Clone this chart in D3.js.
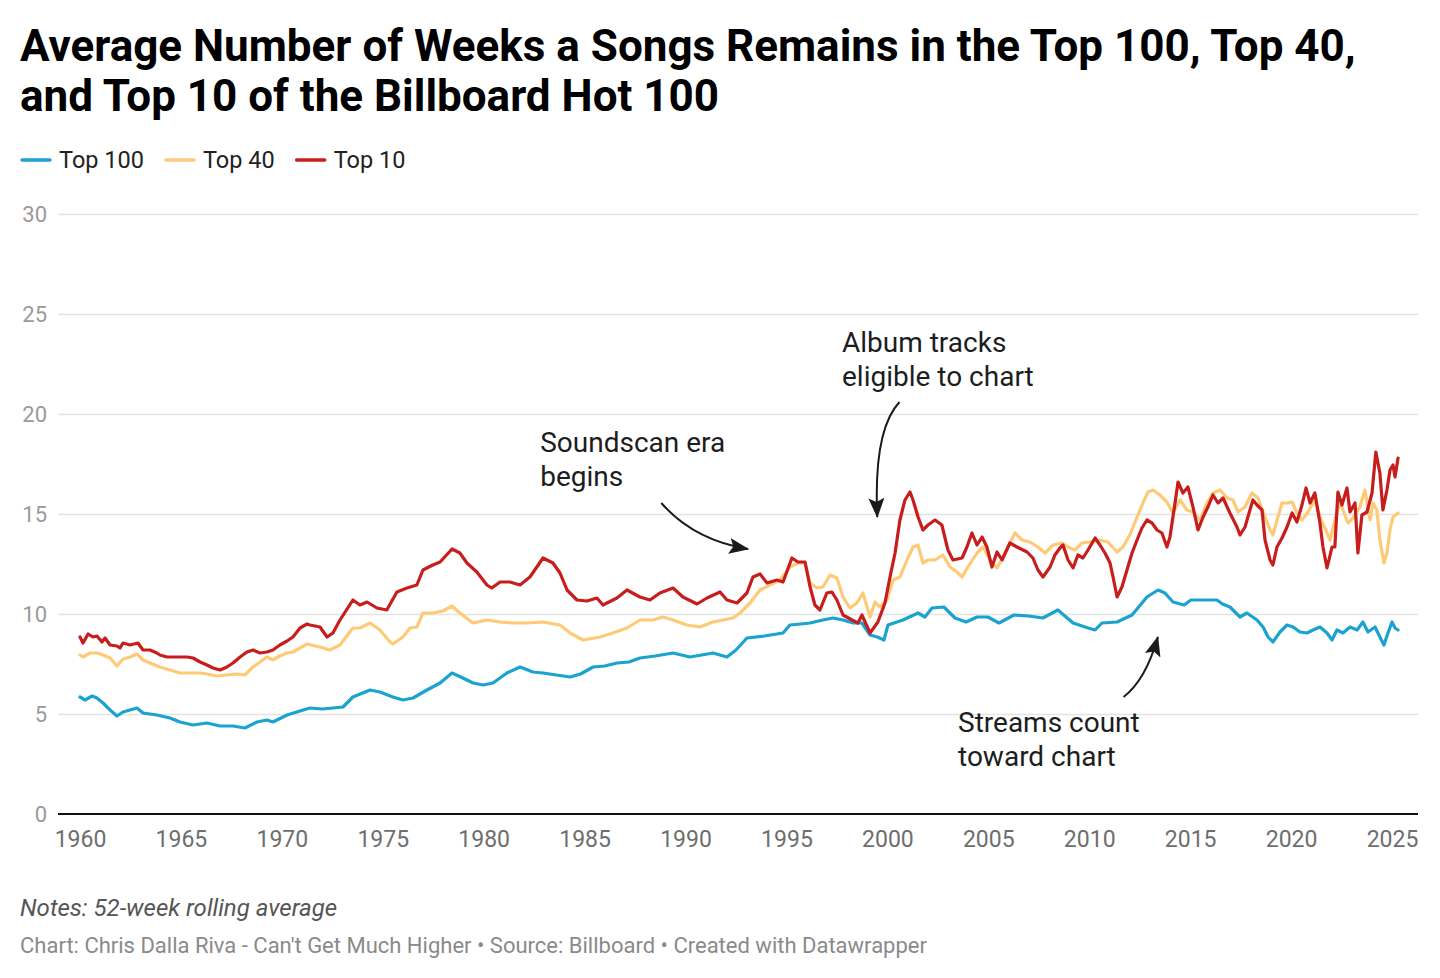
<!DOCTYPE html>
<html>
<head>
<meta charset="utf-8">
<script src="https://cdn.jsdelivr.net/npm/d3@7"></script>
<style>
  html, body { margin: 0; padding: 0; background: #fff; }
  svg { display: block; font-family: Roboto, "Noto Sans", sans-serif; }
</style>
</head>
<body>
<svg id="chart" width="1440" height="978"></svg>
<script>
// ---------- DATA ----------
const titleLines = [
  "Average Number of Weeks a Songs Remains in the Top 100, Top 40,",
  "and Top 10 of the Billboard Hot 100"
];
const seriesNames = ["Top 100", "Top 40", "Top 10"];
const seriesColors = ["#1aa3d0", "#ffca76", "#c71e1d"];
const xTicks = [1960,1965,1970,1975,1980,1985,1990,1995,2000,2005,2010,2015,2020,2025];
const yTicks = [0,5,10,15,20,25,30];

// [year, average weeks]
const top100 = [
[1960.0,5.85],[1960.25,5.7],[1960.6,5.9],[1960.84,5.8],[1961.14,5.55],[1961.49,5.2],[1961.83,4.9],
[1962.13,5.1],[1962.82,5.3],[1963.12,5.05],[1963.81,4.95],[1964.46,4.8],[1964.95,4.6],[1965.6,4.45],
[1966.29,4.55],[1966.94,4.4],[1967.58,4.4],[1968.17,4.3],[1968.77,4.6],[1969.26,4.7],[1969.56,4.6],
[1970.26,4.95],[1970.9,5.15],[1971.39,5.3],[1972.0,5.25],[1972.53,5.3],[1973.03,5.35],[1973.52,5.85],
[1974.37,6.2],[1974.86,6.1],[1975.5,5.85],[1976.0,5.7],[1976.5,5.8],[1977.19,6.2],[1977.84,6.55],
[1978.43,7.05],[1978.97,6.8],[1979.47,6.55],[1979.97,6.45],[1980.46,6.55],[1981.15,7.05],[1981.8,7.35],
[1982.44,7.1],[1982.94,7.05],[1983.6,6.95],[1984.28,6.85],[1984.8,7.0],[1985.42,7.35],[1986.0,7.4],
[1986.6,7.55],[1987.2,7.6],[1987.74,7.8],[1988.5,7.9],[1989.38,8.05],[1990.22,7.85],[1990.8,7.95],
[1991.36,8.05],[1992.05,7.85],[1992.5,8.2],[1993.04,8.8],[1993.9,8.9],[1994.83,9.05],[1995.17,9.45],
[1995.7,9.5],[1996.17,9.55],[1996.8,9.7],[1997.3,9.8],[1997.8,9.7],[1998.3,9.55],[1998.74,9.55],
[1999.14,8.95],[1999.5,8.85],[1999.83,8.7],[2000.03,9.45],[2000.77,9.7],[2001.52,10.05],[2001.86,9.85],
[2002.21,10.3],[2002.8,10.35],[2003.35,9.8],[2003.9,9.6],[2004.44,9.85],[2004.98,9.85],[2005.53,9.55],
[2006.27,9.95],[2007.0,9.9],[2007.7,9.8],[2008.45,10.2],[2009.2,9.55],[2009.94,9.3],[2010.29,9.2],
[2010.63,9.55],[2011.38,9.6],[2012.12,9.95],[2012.86,10.85],[2013.41,11.2],[2013.75,11.05],[2014.15,10.6],
[2014.7,10.45],[2015.04,10.7],[2015.78,10.7],[2016.33,10.7],[2016.6,10.5],[2016.97,10.35],[2017.47,9.85],
[2017.81,10.05],[2018.31,9.7],[2018.61,9.35],[2018.86,8.85],[2019.1,8.6],[2019.45,9.1],[2019.8,9.45],
[2020.1,9.35],[2020.44,9.1],[2020.79,9.05],[2021.09,9.2],[2021.43,9.35],[2021.78,9.05],[2022.03,8.7],
[2022.27,9.2],[2022.57,9.05],[2022.92,9.35],[2023.27,9.2],[2023.56,9.6],[2023.81,9.1],[2024.16,9.35],
[2024.4,8.85],[2024.6,8.45],[2024.8,9.05],[2025.0,9.6],[2025.15,9.3],[2025.3,9.2]
];

const top40 = [
[1960.0,7.95],[1960.15,7.85],[1960.5,8.05],[1960.84,8.05],[1961.14,7.95],[1961.49,7.8],[1961.83,7.4],
[1962.13,7.75],[1962.48,7.85],[1962.82,8.0],[1963.12,7.7],[1963.47,7.55],[1963.96,7.35],[1964.46,7.2],
[1964.95,7.05],[1965.45,7.05],[1965.95,7.05],[1966.29,7.0],[1966.79,6.9],[1967.28,6.95],[1967.78,7.0],
[1968.17,6.95],[1968.57,7.35],[1968.92,7.6],[1969.26,7.85],[1969.56,7.7],[1969.9,7.9],[1970.26,8.05],
[1970.55,8.1],[1970.9,8.3],[1971.25,8.5],[1971.89,8.35],[1972.38,8.2],[1972.88,8.45],[1973.52,9.3],
[1973.87,9.3],[1974.37,9.55],[1974.86,9.2],[1975.36,8.6],[1975.5,8.5],[1976.0,8.85],[1976.35,9.3],
[1976.69,9.35],[1976.99,10.05],[1977.48,10.05],[1977.98,10.15],[1978.43,10.4],[1978.82,10.05],[1979.47,9.55],
[1980.16,9.7],[1980.81,9.6],[1981.45,9.55],[1982.14,9.55],[1982.94,9.6],[1983.78,9.45],[1984.28,9.05],
[1984.92,8.7],[1985.76,8.85],[1986.4,9.05],[1987.1,9.3],[1987.74,9.7],[1988.39,9.7],[1988.88,9.85],
[1989.38,9.7],[1990.07,9.45],[1990.71,9.35],[1991.36,9.6],[1992.35,9.8],[1992.7,10.05],[1993.19,10.55],
[1993.69,11.2],[1994.19,11.45],[1994.68,11.7],[1995.17,12.35],[1995.57,12.55],[1995.92,12.55],[1996.17,11.55],
[1996.51,11.3],[1996.81,11.35],[1997.16,11.95],[1997.5,11.8],[1997.8,10.85],[1998.15,10.3],[1998.49,10.55],
[1998.79,11.05],[1999.14,9.85],[1999.39,10.6],[1999.63,10.35],[1999.98,10.7],[2000.28,11.7],[2000.62,11.85],
[2000.97,12.7],[2001.27,13.35],[2001.52,13.45],[2001.76,12.55],[2002.01,12.7],[2002.36,12.7],[2002.75,12.95],
[2003.1,12.35],[2003.45,12.1],[2003.7,11.85],[2003.99,12.35],[2004.44,13.05],[2004.74,13.35],[2005.08,12.7],
[2005.43,12.3],[2005.73,12.85],[2006.07,13.55],[2006.32,14.05],[2006.67,13.7],[2007.06,13.6],[2007.46,13.35],
[2007.81,13.05],[2008.21,13.45],[2008.65,13.55],[2008.95,13.35],[2009.29,13.2],[2009.64,13.55],[2010.04,13.6],
[2010.53,13.7],[2010.92,13.6],[2011.38,13.1],[2011.67,13.35],[2012.01,13.95],[2012.37,14.85],[2012.66,15.55],
[2012.91,16.1],[2013.16,16.2],[2013.5,15.95],[2013.85,15.6],[2014.15,15.05],[2014.5,15.7],[2014.84,15.2],
[2015.14,15.1],[2015.49,14.7],[2015.83,15.55],[2016.13,16.05],[2016.48,16.2],[2016.83,15.8],[2017.12,15.7],
[2017.37,15.1],[2017.72,15.35],[2018.06,16.05],[2018.36,15.8],[2018.71,14.85],[2018.96,14.2],[2019.1,13.95],
[2019.35,14.85],[2019.55,15.55],[2019.85,15.55],[2020.05,15.6],[2020.29,15.05],[2020.54,14.7],[2020.84,15.1],
[2021.18,15.7],[2021.43,14.85],[2021.78,14.05],[2021.93,13.7],[2022.17,14.7],[2022.42,15.6],[2022.57,15.2],
[2022.82,14.55],[2023.07,14.8],[2023.41,15.35],[2023.66,16.2],[2023.91,14.7],[2024.06,15.55],[2024.25,15.2],
[2024.4,13.7],[2024.6,12.55],[2024.75,13.05],[2024.9,14.2],[2025.05,14.85],[2025.3,15.05]
];

const top10 = [
[1960.0,8.85],[1960.15,8.55],[1960.4,9.0],[1960.64,8.85],[1960.84,8.9],[1961.09,8.6],[1961.24,8.8],
[1961.49,8.45],[1961.83,8.4],[1961.98,8.3],[1962.13,8.55],[1962.48,8.45],[1962.87,8.55],[1963.12,8.2],
[1963.47,8.2],[1963.81,8.05],[1963.96,7.95],[1964.31,7.85],[1964.61,7.85],[1964.95,7.85],[1965.3,7.85],
[1965.6,7.8],[1965.95,7.6],[1966.29,7.45],[1966.59,7.3],[1966.94,7.2],[1967.28,7.35],[1967.58,7.55],
[1967.93,7.85],[1968.27,8.1],[1968.57,8.2],[1968.92,8.05],[1969.26,8.1],[1969.56,8.2],[1969.9,8.45],
[1970.26,8.65],[1970.55,8.85],[1970.9,9.3],[1971.25,9.5],[1971.39,9.45],[1971.89,9.35],[1972.24,8.85],
[1972.53,9.05],[1972.88,9.7],[1973.52,10.7],[1973.87,10.45],[1974.22,10.6],[1974.71,10.3],[1975.2,10.2],
[1975.7,11.1],[1976.2,11.3],[1976.69,11.45],[1976.99,12.2],[1977.48,12.45],[1977.84,12.6],[1978.43,13.25],
[1978.82,13.05],[1979.17,12.55],[1979.66,12.1],[1980.16,11.45],[1980.4,11.3],[1980.81,11.6],[1981.3,11.6],
[1981.8,11.45],[1982.29,11.85],[1982.94,12.8],[1983.43,12.55],[1983.78,12.05],[1984.13,11.2],[1984.62,10.7],
[1985.12,10.65],[1985.61,10.8],[1985.91,10.45],[1986.6,10.8],[1987.1,11.2],[1987.74,10.85],[1988.24,10.7],
[1988.73,11.05],[1989.38,11.3],[1989.87,10.85],[1990.57,10.5],[1991.06,10.8],[1991.71,11.1],[1992.05,10.7],
[1992.55,10.55],[1993.04,11.05],[1993.34,11.85],[1993.69,12.0],[1994.04,11.55],[1994.53,11.7],[1994.83,11.6],
[1995.27,12.8],[1995.57,12.6],[1995.92,12.6],[1996.17,11.35],[1996.41,10.45],[1996.66,10.2],[1997.0,11.05],
[1997.25,11.1],[1997.5,10.7],[1997.8,9.95],[1998.25,9.7],[1998.54,9.55],[1998.74,9.95],[1999.14,9.05],
[1999.53,9.6],[1999.88,10.55],[2000.13,11.85],[2000.38,13.05],[2000.62,14.7],[2000.87,15.7],[2001.12,16.1],
[2001.27,15.7],[2001.52,14.85],[2001.76,14.2],[2002.01,14.45],[2002.36,14.7],[2002.7,14.45],[2003.0,13.2],
[2003.25,12.7],[2003.7,12.8],[2003.94,13.35],[2004.19,14.05],[2004.44,13.45],[2004.69,13.85],[2004.93,13.35],
[2005.18,12.35],[2005.43,13.1],[2005.68,12.7],[2006.07,13.55],[2006.42,13.35],[2006.72,13.2],[2006.92,13.1],
[2007.21,12.8],[2007.46,12.2],[2007.71,11.85],[2008.06,12.35],[2008.3,12.95],[2008.55,13.3],[2008.7,13.45],
[2008.95,12.7],[2009.2,12.3],[2009.44,12.95],[2009.69,12.8],[2009.94,13.2],[2010.29,13.8],[2010.53,13.45],
[2010.78,13.05],[2011.03,12.55],[2011.18,11.85],[2011.38,10.85],[2011.62,11.35],[2011.87,12.2],[2012.12,13.05],
[2012.37,13.7],[2012.61,14.3],[2012.86,14.7],[2013.11,14.55],[2013.36,14.2],[2013.6,14.05],[2013.85,13.35],
[2014.0,13.85],[2014.25,15.55],[2014.4,16.6],[2014.64,16.05],[2014.89,16.35],[2015.14,15.35],[2015.39,14.2],
[2015.64,14.85],[2015.88,15.35],[2016.13,15.95],[2016.38,15.55],[2016.63,15.8],[2016.97,15.05],[2017.32,14.35],
[2017.47,13.95],[2017.72,14.35],[2017.86,14.85],[2018.11,15.7],[2018.31,15.45],[2018.56,15.2],[2018.71,13.7],
[2018.96,12.7],[2019.1,12.45],[2019.3,13.35],[2019.55,13.8],[2019.8,14.35],[2020.05,15.05],[2020.29,14.6],
[2020.54,15.45],[2020.74,16.3],[2020.94,15.55],[2021.18,16.05],[2021.43,14.55],[2021.58,13.35],[2021.78,12.3],
[2022.03,13.35],[2022.17,13.35],[2022.32,16.1],[2022.52,15.45],[2022.77,16.3],[2022.92,15.1],[2023.17,15.55],
[2023.31,13.05],[2023.51,14.95],[2023.76,15.1],[2024.01,16.05],[2024.2,18.1],[2024.4,17.05],[2024.55,15.2],
[2024.75,16.2],[2024.9,17.2],[2025.05,17.45],[2025.15,16.85],[2025.3,17.8]
];

const notesText = "Notes: 52-week rolling average";
const footerText = "Chart: Chris Dalla Riva - Can't Get Much Higher \u2022 Source: Billboard \u2022 Created with Datawrapper";

// annotations: text lines, anchored to data coordinates
const annotations = [
  { lines: ["Soundscan era", "begins"], at: [1982.8, 18.1],
    from: [1988.8, 15.55], ctrl: [1990.4, 13.7], to: [1993.1, 13.25] },
  { lines: ["Album tracks", "eligible to chart"], at: [1997.75, 23.1],
    from: [2000.6, 20.6], ctrl: [1999.3, 19.2], to: [1999.5, 14.85] },
  { lines: ["Streams count", "toward chart"], at: [2003.5, 4.1],
    from: [2011.7, 5.85], ctrl: [2012.8, 6.7], to: [2013.4, 8.85] }
];

// ---------- DRAW ----------
const svg = d3.select("#chart");
const x = d3.scaleLinear().domain([1960, 2025]).range([80, 1392]);
const y = d3.scaleLinear().domain([0, 30]).range([814, 214]);
const gridLeft = 58, gridRight = 1418;

// Title
svg.append("g").selectAll("text").data(titleLines).join("text")
  .attr("x", 20).attr("y", (d, i) => 61 + i * 50)
  .attr("font-size", 44).attr("font-weight", 700).attr("fill", "#000")
  .text(d => d);

// Legend
const legend = svg.append("g").attr("transform", "translate(22,160)");
let lx = 0;
seriesNames.forEach((name, i) => {
  const g = legend.append("g").attr("transform", `translate(${lx},0)`);
  g.append("line").attr("x1", 0).attr("x2", 28).attr("y1", 0).attr("y2", 0)
    .attr("stroke", seriesColors[i]).attr("stroke-width", 3.5).attr("stroke-linecap", "round");
  const t = g.append("text").attr("x", 37).attr("y", 0).attr("dy", "0.35em")
    .attr("font-size", 23.5).attr("fill", "#222").text(name);
  lx += 37 + t.node().getComputedTextLength() + 22;
});

// Grid
const grid = svg.append("g").attr("transform", `translate(${gridLeft},0)`)
  .call(d3.axisRight(y).tickValues(yTicks.filter(v => v > 0)).tickSize(gridRight - gridLeft).tickFormat(""));
grid.select(".domain").remove();
grid.selectAll("line").attr("stroke", "#e3e3e3").attr("stroke-width", 1.5);

// Y labels
const yAx = svg.append("g").attr("transform", `translate(${gridLeft},0)`)
  .call(d3.axisLeft(y).tickValues(yTicks).tickSize(0).tickPadding(11));
yAx.select(".domain").remove();
yAx.selectAll("text").attr("font-size", 22).attr("fill", "#9a9a9a").attr("font-family", "Roboto");

// X axis labels
const xAx = svg.append("g").attr("transform", `translate(0,${y(0)})`)
  .call(d3.axisBottom(x).tickValues(xTicks).tickSize(0).tickPadding(17).tickFormat(d3.format("d")));
xAx.select(".domain").remove();
xAx.selectAll("text").attr("font-size", 23).attr("fill", "#6e6e6e").attr("font-family", "Roboto");

// Lines
const line = d3.line().x(d => x(d[0])).y(d => y(d[1])).curve(d3.curveLinear);
const allSeries = [top100, top40, top10];
svg.append("g").selectAll("path").data(allSeries).join("path")
  .attr("d", line).attr("fill", "none")
  .attr("stroke", (d, i) => seriesColors[i])
  .attr("stroke-width", 3.2).attr("stroke-linejoin", "round").attr("stroke-linecap", "round");

// Baseline
svg.append("line").attr("x1", gridLeft).attr("x2", gridRight)
  .attr("y1", y(0)).attr("y2", y(0)).attr("stroke", "#111").attr("stroke-width", 2);

// Arrow marker
svg.append("defs").append("marker")
  .attr("id", "arrowhead").attr("markerUnits", "userSpaceOnUse")
  .attr("viewBox", "0 0 20 16").attr("refX", 19).attr("refY", 8)
  .attr("markerWidth", 20).attr("markerHeight", 16).attr("orient", "auto")
  .append("path").attr("d", "M0,0 L20,8 L0,16 L4,8 Z").attr("fill", "#1a1a1a");

// Annotations
const ann = svg.append("g");
annotations.forEach(a => {
  ann.append("text").attr("x", x(a.at[0])).attr("y", y(a.at[1]))
    .attr("font-size", 28).attr("fill", "#1d1d1d")
    .selectAll("tspan").data(a.lines).join("tspan")
    .attr("x", x(a.at[0])).attr("dy", (d, i) => i === 0 ? 0 : 34).text(d => d);
  const p = d3.path();
  p.moveTo(x(a.from[0]), y(a.from[1]));
  p.quadraticCurveTo(x(a.ctrl[0]), y(a.ctrl[1]), x(a.to[0]), y(a.to[1]));
  ann.append("path").attr("d", p.toString()).attr("fill", "none")
    .attr("stroke", "#1a1a1a").attr("stroke-width", 2)
    .attr("marker-end", "url(#arrowhead)");
});

// Notes + footer
svg.append("text").attr("x", 20).attr("y", 916).attr("font-size", 24)
  .attr("font-style", "italic").attr("fill", "#555").text(notesText);
svg.append("text").attr("x", 20).attr("y", 953).attr("font-size", 22)
  .attr("fill", "#8a8a8a").text(footerText);
</script>
</body>
</html>
